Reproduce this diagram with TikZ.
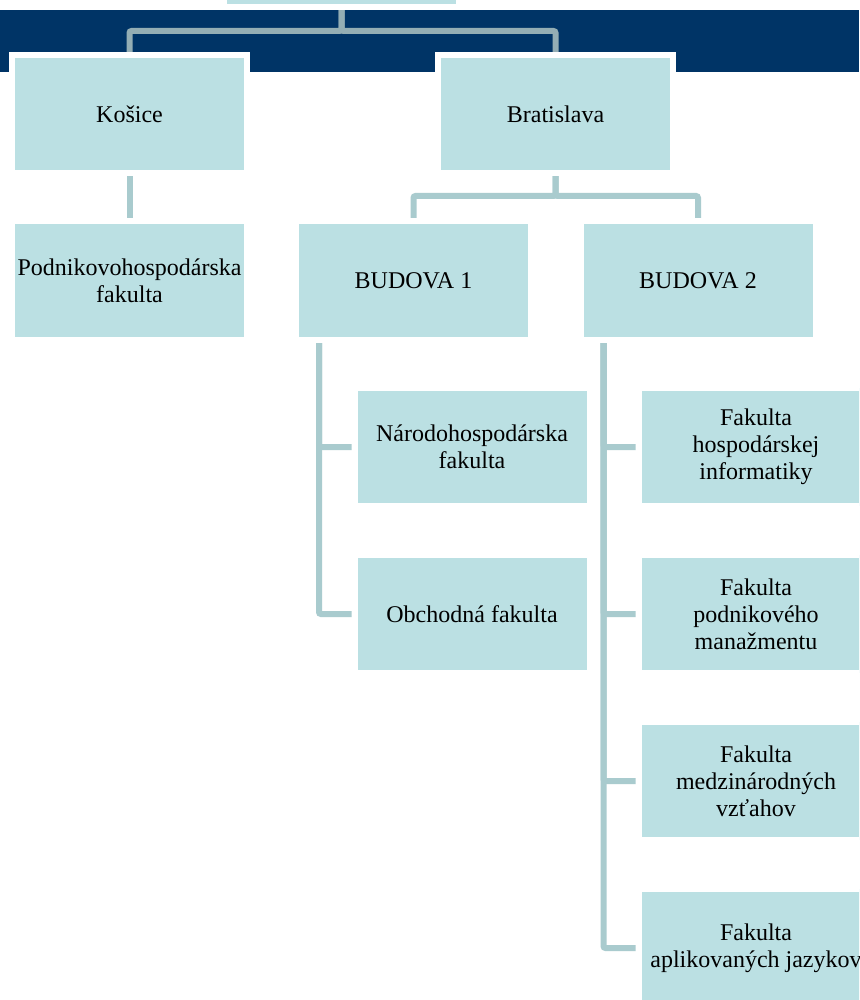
\documentclass[tikz,border=0pt]{standalone}
\usepackage{fontspec}
\setmainfont{Liberation Serif}
\usetikzlibrary{positioning,calc,backgrounds}
\definecolor{bandnavy}{RGB}{0,52,102}
\definecolor{boxfill}{RGB}{187,224,227}
\definecolor{linecol}{RGB}{169,203,206}
\definecolor{linedark}{RGB}{148,174,180}
\tikzset{
  box/.style={rectangle,fill=boxfill,draw=white,line width=3pt,minimum width=117.5pt,minimum height=59pt,inner sep=0pt,align=center,font=\fontsize{12}{13.5}\selectfont},
  conn/.style={draw=linecol,line width=3pt,rounded corners=1pt}
}
\begin{document}
\begin{tikzpicture}[x=0.5pt,y=-0.5pt]
    \useasboundingbox (0,0) rectangle (859,1000);
    \clip (0,0) rectangle (859,1000);
    \node[box] (u)   at (341.5,-52) {};
    \node[box] (ke)  at (129.5,114) {Košice};
    \node[box] (ba)  at (555.5,114) {Bratislava};
    \node[box] (phf) at (129.5,280.5) {Podnikovohospodárska\\fakulta};
    \node[box] (b_1) at (413.5,280.5) {BUDOVA 1};
    \node[box] (b_2) at (698,280.5) {BUDOVA 2};
    \node[box] (nhf) at (472,447) {Národohospodárska\\fakulta};
    \node[box] (of)  at (472,614) {Obchodná fakulta};
    \node[box] (fhi) at (756,447) {Fakulta\\hospodárskej\\informatiky};
    \node[box] (fpm) at (756,614) {Fakulta\\podnikového\\manažmentu};
    \node[box] (fmv) at (756,781) {Fakulta\\medzinárodných\\vzťahov};
    \node[box] (faj) at (756,948) {Fakulta\\aplikovaných jazykov};
    \coordinate (t_1) at ([xshift=13pt]b_1.south west);
    \coordinate (t_2) at ([xshift=13pt]b_2.south west);
    \begin{scope}[on background layer]
    \fill[white] (0,0) rectangle (859,1000);
    \fill[bandnavy] (0,10) rectangle (859,72);
    % top level
    \draw[conn,draw=linedark] (u.south) -- ++(0,21) -| (ke.north);
    \draw[conn,draw=linedark] (u.south) -- ++(0,21) -| (ba.north);
    \draw[conn] (ke) -- (phf);
    \draw[conn] (ba.south) -- ++(0,20) -| (b_1.north);
    \draw[conn] (ba.south) -- ++(0,20) -| (b_2.north);
    % budovy
    \draw[conn] (t_1) |- (nhf.west);
    \draw[conn] (t_1) |- (of.west);
    \draw[conn] (t_2) |- (fhi.west);
    \draw[conn] (t_2) |- (fpm.west);
    \draw[conn] (t_2) |- (fmv.west);
    \draw[conn] (t_2) |- (faj.west);
    \end{scope}
\end{tikzpicture}
\end{document}
